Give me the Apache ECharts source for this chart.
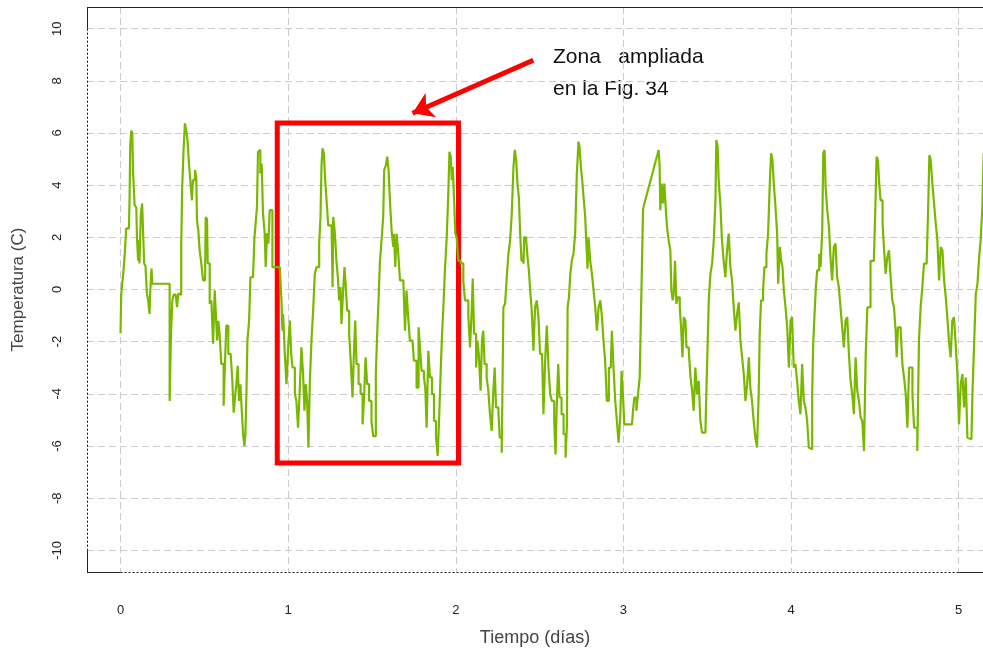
<!DOCTYPE html>
<html><head><meta charset="utf-8">
<script src="https://cdn.jsdelivr.net/npm/echarts@6/dist/echarts.min.js"></script>
<style>html,body{margin:0;padding:0;background:#fff}#c{width:983px;height:654px}</style>
</head><body><div id="c"></div>
<script>
// ---- data: time in days, temperature in °C ----
const tSeg1 = [0.000,0.004,0.010,0.018,0.024,0.034,0.050,0.054,0.058,0.064,
0.070,0.074,0.080,0.084,0.094,0.098,0.105,0.109,0.113,0.121,
0.129,0.137,0.141,0.149,0.157,0.165,0.173,0.177,0.185,0.189,
0.293,0.293,0.301,0.309,0.317,0.329,0.337,0.345,0.353,0.362,
0.368,0.376,0.384,0.392,0.400,0.408,0.416,0.426,0.432,0.444,
0.452,0.456,0.464,0.472,0.482,0.492,0.504,0.508,0.516,0.520,
0.532,0.542,0.552,0.562,0.572,0.576,0.583,0.591,0.601,0.615,
0.623,0.631,0.643,0.657,0.667,0.675,0.683,0.691,0.699,0.707,
0.715,0.723,0.731,0.739,0.745,0.751,0.757,0.767,0.775,0.791,
0.799,0.810,0.814,0.820,0.826,0.834,0.842,0.850,0.860,0.866,
0.874,0.882,0.890,0.898,0.906];
const vSeg1 = [-1.68,-0.23,0.23,0.73,1.24,2.34,2.34,3.50,5.54,6.09,
6.00,4.65,4.60,3.23,3.15,2.00,1.10,1.90,1.00,2.90,
3.30,3.35,1.00,0.90,-0.16,-0.40,-0.94,-0.10,0.80,0.22,
0.22,-4.27,-1.70,-0.42,-0.20,-0.15,-0.68,-0.15,-0.20,1.63,
3.93,5.35,6.37,6.10,5.70,4.85,4.19,3.42,4.19,4.58,
4.30,2.65,2.27,1.50,1.00,0.35,0.35,2.78,2.70,1.00,
-0.55,-0.42,-2.08,-0.03,-0.03,-1.95,-1.20,-1.70,-2.85,-4.46,
-2.85,-1.38,-2.47,-2.54,-3.50,-4.72,-4.14,-3.63,-2.92,-4.27,
-3.63,-4.60,-5.54,-6.00,-5.54,-4.00,-1.96,-1.19,0.47,0.60,
2.00,2.00,3.17,5.28,5.35,4.45,4.83,2.92,2.15,0.86,
2.15,1.76,3.04,3.04,0.86];

const tSeg2 = [0.950,0.960,0.966,0.970,0.980,0.990,1.000,1.010,1.018,1.026,
1.040,1.049,1.059,1.069,1.079,1.089,1.097,1.105,1.113,1.121,
1.129,1.139,1.149,1.159,1.169,1.185,1.193,1.199,1.205,1.213,
1.221,1.229,1.239,1.259,1.265,1.269,1.279,1.288,1.298,1.304,
1.312,1.318,1.328,1.336,1.344,1.352,1.364,1.374,1.384,1.392,
1.400,1.408,1.420,1.432,1.444,1.452,1.462,1.471,1.483,1.497,
1.507,1.517,1.523,1.531,1.539,1.547,1.557,1.567,1.573,1.583,
1.591,1.599,1.607,1.617,1.627,1.631,1.639,1.647,1.657,1.667,
1.687,1.697,1.706,1.716,1.726,1.742,1.750,1.766,1.778,1.786,
1.796,1.810,1.818,1.826,1.836,1.846,1.858,1.870,1.882,1.892,
1.900,1.910,1.918,1.926,1.936,1.946,1.956,1.962,1.970,1.976,
1.982,1.990,1.997,2.005,2.015];
const vSeg2 = [0.86,-0.42,-1.58,-0.94,-2.47,-3.63,-2.22,-1.19,-2.47,-2.99,
-4.00,-4.27,-5.30,-3.88,-2.22,-3.24,-4.65,-3.63,-4.27,-6.06,
-3.63,-1.96,-0.81,0.60,0.86,1.76,2.78,4.77,5.41,5.22,
4.19,3.42,2.46,2.46,0.09,2.78,2.14,1.10,0.35,-0.42,
0.09,-1.32,-0.04,0.86,0.09,-0.81,-1.70,-2.85,-4.14,-2.47,
-1.19,-2.86,-3.63,-4.00,-5.17,-4.27,-2.60,-3.63,-4.27,-5.04,
-5.62,-5.62,-3.24,-1.70,-0.42,1.00,1.88,2.78,4.58,4.77,
5.09,4.58,3.42,2.27,1.63,2.14,0.86,2.14,1.37,0.35,
0.30,-1.58,-0.04,-1.06,-1.96,-1.96,-2.73,-3.76,-1.45,-2.22,
-3.12,-3.37,-3.76,-5.30,-2.35,-3.37,-4.01,-5.04,-5.68,-6.38,
-5.04,-3.12,-1.70,-0.68,0.86,2.00,3.81,5.28,5.09,4.19,
4.70,3.42,2.15,2.00,1.10];

const tSeg3 = [2.030,2.045,2.055,2.075,2.085,2.095,2.101,2.109,2.121,2.129,
2.137,2.148,2.156,2.164,2.172,2.184,2.194,2.204,2.214,2.224,
2.232,2.240,2.254,2.262,2.274,2.284,2.294,2.304,2.314,2.324,
2.334,2.344,2.352,2.360,2.368,2.376,2.384,2.392,2.404,2.408,
2.420,2.428,2.436,2.444,2.453,2.463,2.473,2.483,2.493,2.503,
2.515,2.523,2.533,2.543,2.553,2.563,2.573,2.587,2.595,2.603,
2.611,2.619,2.631,2.643,2.655,2.663,2.667,2.675,2.683,2.692,
2.702,2.712,2.722,2.732,2.738,2.746,2.754,2.762,2.772,2.778,
2.786,2.792,2.802,2.812,2.822,2.832,2.842,2.852,2.862,2.872,
2.881,2.891,2.901,2.913,2.925,2.931,2.941,2.951,2.961,2.971,
2.981,2.989,2.997,3.005,3.051,3.057,3.065,3.077,3.087,3.097,
3.105,3.111,3.117];
const vSeg3 = [1.00,0.30,-0.42,-1.06,-2.22,-0.81,0.42,-1.70,-2.99,-1.96,
-2.47,-3.88,-1.96,-1.58,-2.86,-3.37,-3.88,-4.78,-5.42,-3.88,
-2.99,-4.52,-4.65,-5.68,-6.26,-0.68,-0.55,0.47,1.37,1.88,
2.92,4.70,5.35,4.97,4.06,3.55,2.15,1.10,0.99,2.00,
1.88,1.24,0.73,-0.04,-0.81,-2.35,-0.68,-0.42,-1.06,-2.47,
-2.60,-4.78,-2.73,-1.38,-2.99,-4.01,-4.27,-5.04,-6.32,-4.27,
-2.86,-4.14,-4.78,-5.55,-6.45,-5.17,-0.68,-0.30,0.60,1.10,
1.37,2.14,4.45,5.67,5.48,4.71,4.19,3.55,2.78,1.88,
0.80,2.00,1.10,0.60,-0.04,-0.68,-1.58,-0.68,-0.42,-1.06,
-1.96,-2.73,-4.27,-3.00,-2.86,-1.58,-2.99,-4.27,-5.04,-5.87,
-4.91,-3.12,-4.01,-5.17,-5.17,-4.65,-4.14,-4.65,-4.01,-3.37,
-0.81,1.10,3.04];

const tSeg4 = [3.120,3.210,3.216,3.220,3.228,3.236,3.244,3.252,3.260,3.270,
3.280,3.286,3.294,3.300,3.308,3.316,3.324,3.336,3.344,3.352,
3.360,3.370,3.376,3.390,3.400,3.410,3.419,3.429,3.439,3.449,
3.459,3.469,3.489,3.495,3.503,3.509,3.519,3.529,3.539,3.549,
3.554,3.562,3.568,3.578,3.588,3.598,3.608,3.618,3.628,3.638,
3.648,3.658,3.668,3.678,3.688,3.698,3.708,3.718,3.728,3.738,
3.748,3.757,3.767,3.777,3.787,3.797,3.807,3.813,3.821,3.833,
3.841,3.853,3.863,3.873,3.881,3.889,3.897,3.907,3.917,3.923,
3.933,3.941,3.949,3.957,3.967,3.977,3.987,3.997,4.006,4.016,
4.026,4.036,4.046,4.056,4.066,4.076,4.086,4.096,4.106,4.116,
4.126,4.132,4.140,4.148,4.156,4.168,4.176,4.186,4.192,4.200,
4.206];
const vSeg4 = [3.17,5.35,4.71,3.04,4.06,3.30,4.06,3.17,2.40,1.88,
1.50,-0.04,-0.42,-0.17,1.10,-0.55,-0.30,-0.68,-1.45,-2.60,
-1.06,-1.19,-2.22,-2.35,-3.37,-3.88,-4.65,-2.99,-4.01,-3.50,
-5.04,-5.49,-5.49,-3.88,-1.96,-0.42,0.60,0.99,1.88,3.42,
5.73,5.48,4.19,3.30,1.88,1.10,0.47,1.50,2.14,0.86,
0.35,-0.68,-1.58,-0.94,-0.49,-1.96,-2.60,-3.24,-4.27,-3.63,
-2.60,-3.76,-4.27,-5.04,-5.68,-6.06,-4.01,-1.70,-0.42,-0.04,
0.86,1.37,2.14,4.06,5.22,4.97,4.06,3.17,2.14,0.22,
1.63,1.11,0.86,-0.04,-0.68,-1.45,-2.99,-1.19,-1.06,-2.99,
-2.86,-3.50,-4.27,-4.78,-2.86,-4.27,-4.52,-5.04,-6.06,-6.12,
-4.01,-2.09,-0.94,0.09,0.73,1.37,0.86,2.27,5.22,5.35,
3.93];

const tSeg5 = [4.216,4.226,4.235,4.245,4.255,4.265,4.275,4.285,4.295,4.305,
4.315,4.325,4.335,4.345,4.355,4.365,4.375,4.385,4.395,4.405,
4.415,4.425,4.435,4.445,4.455,4.464,4.474,4.494,4.504,4.510,
4.518,4.526,4.534,4.546,4.554,4.564,4.574,4.584,4.594,4.604,
4.614,4.624,4.630,4.638,4.654,4.664,4.674,4.684,4.694,4.704,
4.714,4.724,4.734,4.743,4.753,4.763,4.773,4.783,4.793,4.809,
4.817,4.825,4.833,4.843,4.853,4.863,4.873,4.883,4.893,4.903,
4.913,4.923,4.932,4.942,4.952,4.962,4.972,4.982,4.992,5.002,
5.012,5.022,5.032,5.042,5.052,5.062,5.076,5.082,5.092,5.102,
5.112,5.122,5.131,5.141,5.149];
const vSeg5 = [3.04,2.40,1.24,0.35,1.63,1.76,0.47,0.09,-0.68,-1.45,
-2.22,-1.19,-1.06,-2.47,-3.50,-4.01,-4.78,-2.60,-3.88,-4.27,
-4.91,-5.04,-6.19,-2.60,-0.68,-0.68,1.10,1.10,3.42,5.09,
4.97,4.06,3.42,2.53,1.63,0.60,1.24,1.50,0.47,-0.42,
-0.68,-1.58,-2.60,-1.45,-1.58,-2.86,-3.37,-4.01,-5.30,-2.99,
-2.99,-4.01,-5.30,-5.30,-6.19,-1.96,-0.68,0.09,0.99,1.10,
2.91,5.15,4.97,4.06,3.30,2.53,1.88,0.35,1.63,1.50,
0.35,-0.30,-1.06,-1.96,-2.60,-1.19,-1.06,-2.09,-3.24,-5.17,
-3.63,-3.24,-4.52,-3.37,-5.68,-5.74,-5.68,-4.01,-2.09,-0.17,
0.22,1.24,1.88,3.17,5.22];

const xTicks = [0, 1, 2, 3, 4, 5];
const yTicks = [-10, -8, -6, -4, -2, 0, 2, 4, 6, 8, 10];
const xTitle = 'Tiempo (días)';
const yTitle = 'Temperatura (C)';
const noteLine1 = 'Zona   ampliada';
const noteLine2 = 'en la Fig. 34';
// annotation geometry in data units (days, °C)
const zoomBox = [[0.935, 6.38], [2.016, -6.65]];
const arrowFrom = [2.462, 8.79];
const arrowTo = [1.742, 6.76];

// ---- chart ----
const FONT = '"Liberation Sans", Arial, Helvetica, sans-serif';
const X0 = -0.2, X1 = 5.145, Y0 = -10.83, Y1 = 10.83;
const tAll = [].concat(tSeg1, tSeg2, tSeg3, tSeg4, tSeg5);
const vAll = [].concat(vSeg1, vSeg2, vSeg3, vSeg4, vSeg5);
const lineData = tAll.map((t, i) => [t, vAll[i]]);
// the logger has one straight (interpolated) stretch at the start of day 3; the rest is stepped
const splitAt = tSeg1.length + tSeg2.length + tSeg3.length + 1;
const stepA = lineData.slice(0, splitAt);
const stepB = lineData.slice(splitAt);
const bridge = [stepA[stepA.length - 1], stepB[0]];

const solid = {color: '#222', width: 1, type: 'solid'};
const dotted = {color: '#111', width: 1, type: [2, 2]};
function seg(a, b, style) { return [{coord: a, lineStyle: style}, {coord: b}]; }
const GREEN = '#7ab800';
function greenSeries(data, step) {
  return {type: 'line', data: data, step: step, showSymbol: false, symbol: 'none', z: 2,
          lineStyle: {color: GREEN, width: 2.2}, sampling: null, silent: true};
}

const chart = echarts.init(document.getElementById('c'), null, {renderer: 'canvas'});
chart.setOption({
  animation: false,
  backgroundColor: '#ffffff',
  grid: {left: 87, top: 7, right: 0, bottom: 82, containLabel: false, outerBoundsMode: 'none'},
  xAxis: {
    type: 'value', min: X0, max: X1, minInterval: 1, maxInterval: 1,
    axisLine: {show: false}, axisTick: {show: false},
    splitLine: {show: true, showMinLine: false, showMaxLine: false, lineStyle: {color: '#cccccc', width: 1, type: [7, 4]}},
    axisLabel: {customValues: xTicks, margin: 32, fontSize: 13, color: '#222', fontFamily: FONT},
    name: xTitle, nameLocation: 'middle', nameGap: 57,
    nameTextStyle: {fontSize: 18, color: '#444', fontFamily: FONT}
  },
  yAxis: {
    type: 'value', min: Y0, max: Y1, minInterval: 2, maxInterval: 2,
    axisLine: {show: false}, axisTick: {show: false},
    splitLine: {show: true, showMinLine: false, showMaxLine: false, lineStyle: {color: '#cccccc', width: 1, type: [7, 4]}},
    axisLabel: {customValues: yTicks, rotate: 90, margin: 23, fontSize: 13, color: '#222', fontFamily: FONT},
    name: yTitle, nameLocation: 'middle', nameGap: 60, nameRotate: 90,
    nameTextStyle: {fontSize: 17, color: '#444', fontFamily: FONT}
  },
  series: [
    greenSeries(stepA, 'end'),
    greenSeries(bridge, false),
    greenSeries(stepB, 'end'),
    {
      type: 'line', data: [], z: 3, silent: true, clip: false,
      markLine: {
        silent: true, symbol: ['none', 'none'], label: {show: false},
        emphasis: {disabled: true},
        data: [
          seg([X0, Y1], [X1, Y1], solid),
          seg([X0, Y1], [X0, 10], solid),
          seg([X0, 10], [X0, -10], dotted),
          seg([X0, -10], [X0, Y0], solid),
          seg([X0, Y0], [0, Y0], solid),
          seg([0, Y0], [5, Y0], dotted),
          seg([5, Y0], [X1, Y0], solid)
        ]
      }
    },
    {
      type: 'line', data: [], z: 4, silent: true,
      markArea: {
        silent: true, label: {show: false},
        itemStyle: {color: 'rgba(0,0,0,0)', borderColor: '#ff0000', borderWidth: 5},
        data: [[{coord: zoomBox[0]}, {coord: zoomBox[1]}]]
      },
      markLine: {
        silent: true, symbol: ['none', 'arrow'], symbolSize: 20, label: {show: false},
        emphasis: {disabled: true},
        lineStyle: {color: '#ff0000', width: 5, type: 'solid'},
        data: [[{coord: arrowFrom}, {coord: arrowTo}]]
      }
    }
  ],
  graphic: [
    {type: 'text', left: 553, top: 47, silent: true,
     style: {text: noteLine1, fontSize: 21, fontFamily: FONT, fill: '#111'}},
    {type: 'text', left: 553, top: 79, silent: true,
     style: {text: noteLine2, fontSize: 21, fontFamily: FONT, fill: '#111'}}
  ]
});
</script>
</body></html>
